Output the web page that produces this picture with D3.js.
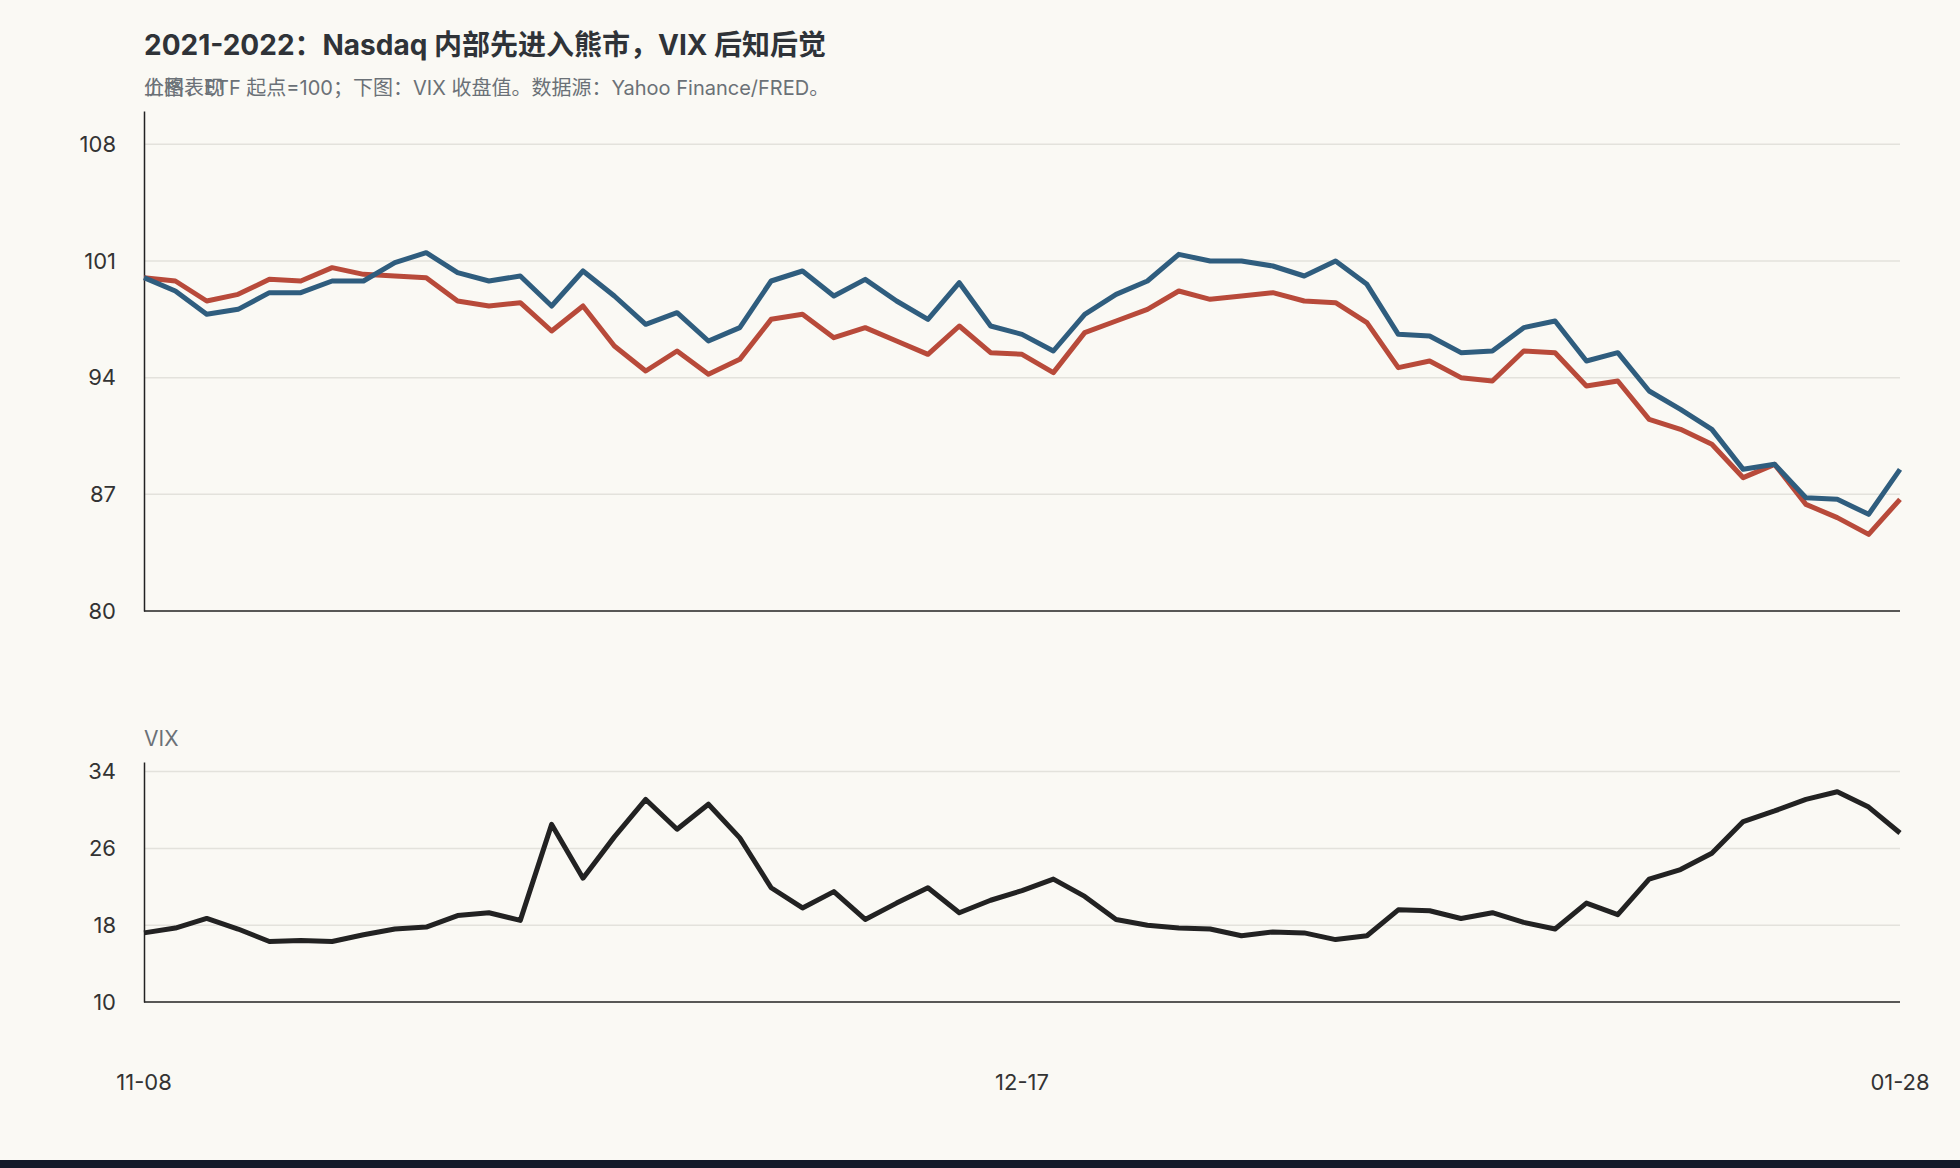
<!DOCTYPE html>
<html><head><meta charset="utf-8">
<script src="https://cdn.jsdelivr.net/npm/d3@7/dist/d3.min.js"></script>
<style>body{margin:0;background:#faf9f4;}svg{display:block;font-family:Inter,"Noto Sans CJK SC",sans-serif;}</style>
</head><body><svg id="c" width="1960" height="1168"></svg>
<script>
const n = 57;
const xTickLabels = [[0,"11-08"],[28,"12-17"],[56,"01-28"]];
const blue = [100,99.2,97.8,98.1,99.1,99.1,99.8,99.8,100.9,101.5,100.3,99.8,100.1,98.3,100.4,98.9,97.2,97.9,96.2,97.0,99.8,100.4,98.9,99.9,98.6,97.5,99.7,97.1,96.6,95.6,97.8,99.0,99.8,101.4,101.0,101.0,100.7,100.1,101.0,99.6,96.6,96.5,95.5,95.6,97.0,97.4,95.0,95.5,93.2,92.1,90.9,88.5,88.8,86.8,86.7,85.8,88.5];
const red = [100,99.8,98.6,99.0,99.9,99.8,100.6,100.2,100.1,100.0,98.6,98.3,98.5,96.8,98.3,95.9,94.4,95.6,94.2,95.1,97.5,97.8,96.4,97.0,96.2,95.4,97.1,95.5,95.4,94.3,96.7,97.4,98.1,99.2,98.7,98.9,99.1,98.6,98.5,97.3,94.6,95.0,94.0,93.8,95.6,95.5,93.5,93.8,91.5,90.9,90.0,88.0,88.8,86.4,85.6,84.6,86.7];
const vix = [17.2,17.7,18.7,17.6,16.3,16.4,16.3,17.0,17.6,17.8,19.0,19.3,18.5,28.5,22.9,27.2,31.1,28.0,30.6,27.1,21.9,19.8,21.5,18.6,20.3,21.9,19.3,20.6,21.6,22.8,21.0,18.6,18.0,17.7,17.6,16.9,17.3,17.2,16.5,16.9,19.6,19.5,18.7,19.3,18.3,17.6,20.3,19.1,22.8,23.8,25.5,28.8,29.9,31.1,31.9,30.3,27.6];
const topTicks = [80,87,94,101,108];
const vixTicks = [10,18,26,34];

const svg = d3.select("#c");
const L=144,R=1900;
const x = d3.scaleLinear().domain([0,n-1]).range([L,R]);
const y1 = d3.scaleLinear().domain([80,110]).range([611,111]);
const y2 = d3.scaleLinear().domain([10,35]).range([1002,762]);
const grid="#e3e2dc", txt="#333", sub="#6b7177";

function panel(y, ticks){
  const g = svg.append("g");
  g.selectAll("line.g").data(ticks.slice(1)).join("line")
    .attr("x1",L).attr("x2",R).attr("y1",d=>y(d)).attr("y2",d=>y(d)).attr("stroke",grid).attr("stroke-width",1.5);
  const ax = g.append("g").attr("transform",`translate(${L},0)`).call(d3.axisLeft(y).tickValues(ticks).tickSize(0).tickPadding(28));
  ax.select(".domain").attr("stroke","#222").attr("stroke-width",1.5);
  ax.selectAll("text").attr("font-size",22).attr("fill",txt).attr("font-family","Inter, sans-serif");
  g.append("line").attr("x1",L).attr("x2",R).attr("y1",y.range()[0]).attr("y2",y.range()[0]).attr("stroke","#222").attr("stroke-width",1.5);
}
panel(y1, topTicks);
panel(y2, vixTicks);

const line = (y)=>d3.line().x((d,i)=>x(i)).y(d=>y(d));
svg.append("path").datum(red).attr("d",line(y1)).attr("fill","none").attr("stroke","#b84a3a").attr("stroke-width",5).attr("stroke-linejoin","round");
svg.append("path").datum(blue).attr("d",line(y1)).attr("fill","none").attr("stroke","#2f5d7e").attr("stroke-width",5).attr("stroke-linejoin","round");
svg.append("path").datum(vix).attr("d",line(y2)).attr("fill","none").attr("stroke","#222").attr("stroke-width",5).attr("stroke-linejoin","round");

svg.selectAll("text.xl").data(xTickLabels).join("text")
  .attr("x",d=>x(d[0])).attr("y",1090).attr("text-anchor","middle").attr("font-size",22).attr("fill",txt)
  .attr("font-family","Inter, sans-serif").text(d=>d[1]);

svg.append("text").attr("x",144).attr("y",55).attr("font-size",28).attr("font-weight","bold").attr("fill","#2f3338").text("2021-2022：Nasdaq 内部先进入熊市，VIX 后知后觉");
svg.append("text").attr("x",144).attr("y",95).attr("font-size",20).attr("fill",sub).text("上图：ETF 起点=100；下图：VIX 收盘值。数据源：Yahoo Finance/FRED。");
svg.append("text").attr("x",144).attr("y",95).attr("font-size",20).attr("fill",sub).text("价格表现");
svg.append("text").attr("x",144).attr("y",746).attr("font-size",21).attr("fill",sub).text("VIX");
svg.append("rect").attr("x",0).attr("y",1160).attr("width",1960).attr("height",8).attr("fill","#141a2a");
</script></body></html>
